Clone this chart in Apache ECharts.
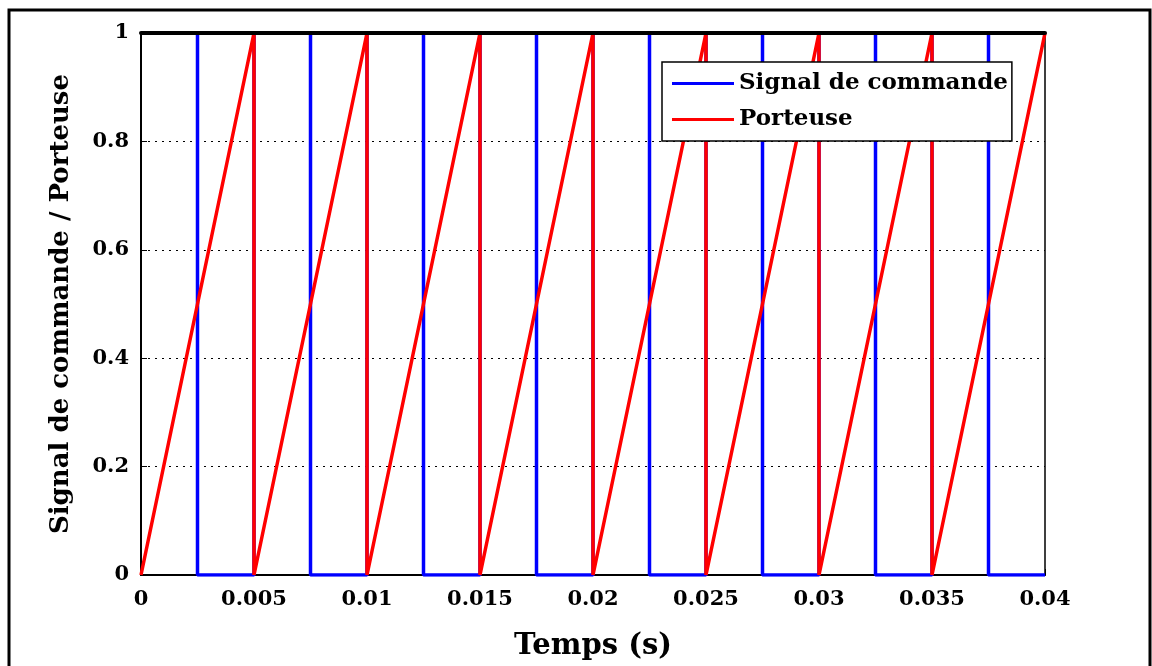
<!DOCTYPE html>
<html>
<head>
<meta charset="utf-8">
<script src="https://cdn.jsdelivr.net/npm/echarts@6/dist/echarts.min.js"></script>
<style>
    html, body { margin: 0; padding: 0; background: #fff; }
    #chart { width: 1152px; height: 666px; }
</style>
</head>
<body>
<div id="chart"></div>
<script>
// Signal de commande (square wave), time / value pairs
var commandT = [0, 0.0025, 0.0025, 0.005, 0.005, 0.0075, 0.0075, 0.01, 0.01, 0.0125, 0.0125, 0.015,
    0.015, 0.0175, 0.0175, 0.02, 0.02, 0.0225, 0.0225, 0.025, 0.025, 0.0275, 0.0275, 0.03,
    0.03, 0.0325, 0.0325, 0.035, 0.035, 0.0375, 0.0375, 0.04];
var commandY = [1, 1, 0, 0, 1, 1, 0, 0, 1, 1, 0, 0,
    1, 1, 0, 0, 1, 1, 0, 0, 1, 1, 0, 0,
    1, 1, 0, 0, 1, 1, 0, 0];

// Porteuse (sawtooth carrier)
var carrierT = [0, 0.005, 0.005, 0.01, 0.01, 0.015, 0.015, 0.02, 0.02, 0.025, 0.025,
    0.03, 0.03, 0.035, 0.035, 0.04];
var carrierY = [0, 1, 0, 1, 0, 1, 0, 1, 0, 1, 0, 1, 0, 1, 0, 1];

var xTicks = ['0', '0.005', '0.01', '0.015', '0.02', '0.025', '0.03', '0.035', '0.04'];
var yTicks = ['0', '0.2', '0.4', '0.6', '0.8', '1'];

function pairs(xs, ys) {
    return xs.map(function (x, i) { return [x, ys[i]]; });
}

var font = 'DejaVu Serif';
var myChart = echarts.init(document.getElementById('chart'));

var option = {
    animation: false,
    backgroundColor: '#fff',
    graphic: [{
        type: 'rect',
        shape: { x: 9, y: 10, width: 1141, height: 680 },
        style: { fill: 'none', stroke: '#000', lineWidth: 3 },
        silent: true
    }],
    grid: {
        left: 141, right: 107, top: 33, bottom: 89,
        show: true, borderColor: '#000', borderWidth: 1.5, backgroundColor: 'transparent'
    },
    legend: {
        orient: 'vertical',
        left: 662, top: 62,
        padding: [10, 4, 10, 10],
        backgroundColor: '#fff',
        borderColor: '#000',
        borderWidth: 1.5,
        icon: 'rect',
        itemWidth: 62,
        itemHeight: 3,
        itemGap: 13,
        textStyle: { fontFamily: font, fontWeight: 'bold', fontSize: 23, color: '#000', padding: [0, 0, 0, 0] },
        data: ['Signal de commande', 'Porteuse']
    },
    xAxis: [{
        type: 'value',
        min: 0, max: 0.04, interval: 0.005,
        name: 'Temps (s)',
        nameLocation: 'middle',
        nameGap: 57,
        nameTextStyle: { fontFamily: font, fontWeight: 'bold', fontSize: 29, color: '#000' },
        axisLine: { show: true, lineStyle: { color: '#000', width: 2 } },
        axisTick: { inside: true, length: 6, lineStyle: { color: '#000' } },
        axisLabel: {
            margin: 14,
            fontFamily: font, fontWeight: 'bold', fontSize: 21, color: '#000',
            formatter: function (v) {
                return xTicks[Math.round(v / 0.005)];
            }
        },
        splitLine: { show: false }
    }, {
        // top frame edge, drawn over the series
        type: 'value',
        position: 'top',
        min: 0, max: 0.04, interval: 0.005,
        z: 10,
        axisLine: { show: true, lineStyle: { color: '#000', width: 4 } },
        axisTick: { show: false },
        axisLabel: { show: false },
        splitLine: { show: false }
    }],
    yAxis: {
        type: 'value',
        min: 0, max: 1, interval: 0.2,
        name: 'Signal de commande / Porteuse',
        nameLocation: 'middle',
        nameGap: 67,
        nameTextStyle: { fontFamily: font, fontWeight: 'bold', fontSize: 26, color: '#000' },
        axisLine: { show: true, lineStyle: { color: '#000', width: 2 } },
        axisTick: { inside: true, length: 6, lineStyle: { color: '#000' } },
        axisLabel: {
            margin: 12,
            fontFamily: font, fontWeight: 'bold', fontSize: 21, color: '#000',
            formatter: function (v) {
                return yTicks[Math.round(v / 0.2)];
            }
        },
        splitLine: { show: true, lineStyle: { color: '#000', type: [2, 5], width: 1 } }
    },
    series: [
        {
            name: 'Signal de commande',
            type: 'line',
            data: pairs(commandT, commandY),
            showSymbol: false,
            color: '#0000ff',
            lineStyle: { color: '#0000ff', width: 3.5 },
            z: 2
        },
        {
            name: 'Porteuse',
            type: 'line',
            data: pairs(carrierT, carrierY),
            showSymbol: false,
            color: '#ff0000',
            lineStyle: { color: '#ff0000', width: 3.5 },
            z: 3
        }
    ]
};

option && myChart.setOption(option);
window.addEventListener('resize', myChart.resize);
</script>
</body>
</html>
